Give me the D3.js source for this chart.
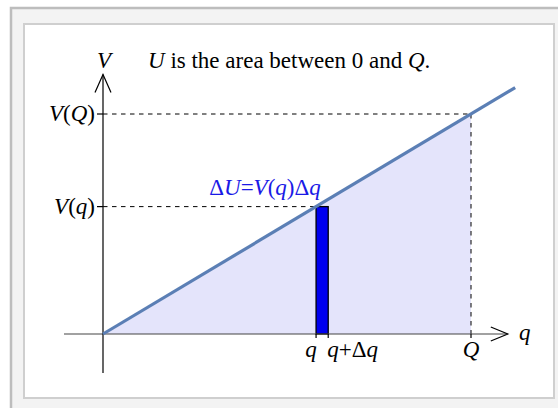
<!DOCTYPE html>
<html>
<head>
<meta charset="utf-8">
<script src="https://cdn.jsdelivr.net/npm/d3@7"></script>
<style>
  html, body { margin: 0; padding: 0; background: #fff; }
  svg { display: block; }
  text { font-family: "Liberation Serif", "Times New Roman", serif; }
</style>
</head>
<body>
<svg id="chart" width="558" height="408"></svg>
<script>
// Quantities in units of Q: charge q, increment dq, and potential V(q) = q
const charges = { q: 0.579, dq: 0.033, Q: 1.0 };
const lineEnd = 1.12;           // how far the V(q) line runs past Q
const xAxisRange = [-0.106, 1.10];
const yAxisRange = [-0.177, 1.18];
const xTickLabels = ["q", "q+Δq", "Q"];
const yTickLabels = ["V(q)", "V(Q)"];
const V = q => q;

const svg = d3.select("#chart");

// frame
svg.append("rect").attr("x", 11).attr("y", 8).attr("width", 560).attr("height", 420)
  .attr("fill", "#f3f3f3").attr("stroke", "#bdbdbd").attr("stroke-width", 2.5);
svg.append("rect").attr("x", 24).attr("y", 24).attr("width", 530).attr("height", 374)
  .attr("fill", "#fff").attr("stroke", "#cfcfcf").attr("stroke-width", 2);

const x = d3.scaleLinear().domain([0, 1]).range([103, 471]);
const y = d3.scaleLinear().domain([0, 1]).range([334, 114]);

// shaded area under V between 0 and Q
svg.append("path")
  .datum([[0, 0], [charges.Q, V(charges.Q)], [charges.Q, 0]])
  .attr("d", d3.line().x(d => x(d[0])).y(d => y(d[1])))
  .attr("fill", "#e4e4fb");

// dashed guides
const dash = "4.5,4.5";
svg.append("line").attr("x1", x(0)).attr("x2", x(charges.Q))
  .attr("y1", y(V(charges.Q))).attr("y2", y(V(charges.Q)))
  .attr("stroke", "#000").attr("stroke-width", 1).attr("stroke-dasharray", dash);
svg.append("line").attr("x1", x(charges.Q)).attr("x2", x(charges.Q))
  .attr("y1", y(V(charges.Q))).attr("y2", y(0))
  .attr("stroke", "#000").attr("stroke-width", 1).attr("stroke-dasharray", dash);
svg.append("line").attr("x1", x(0)).attr("x2", x(charges.q))
  .attr("y1", y(V(charges.q))).attr("y2", y(V(charges.q)))
  .attr("stroke", "#000").attr("stroke-width", 1).attr("stroke-dasharray", dash);

// the thin strip dU = V(q) dq
svg.append("rect")
  .attr("x", x(charges.q)).attr("y", y(V(charges.q)))
  .attr("width", x(charges.q + charges.dq) - x(charges.q))
  .attr("height", y(0) - y(V(charges.q)))
  .attr("fill", "#0000ee").attr("stroke", "#000").attr("stroke-width", 1.3);

// axes
const ax = svg.append("g").attr("stroke", "#000").attr("stroke-width", 1.2).attr("fill", "none");
ax.append("line").attr("x1", x(xAxisRange[0])).attr("x2", x(xAxisRange[1]))
  .attr("y1", y(0)).attr("y2", y(0)).attr("stroke", "#444");
ax.append("line").attr("x1", x(0)).attr("x2", x(0))
  .attr("y1", y(yAxisRange[0])).attr("y2", y(yAxisRange[1]));
const xt = x(xAxisRange[1]), yt = y(yAxisRange[1]);
ax.append("path").attr("d", `M${xt - 17},${y(0) - 7}L${xt},${y(0)}L${xt - 17},${y(0) + 7}`);
ax.append("path").attr("d", `M${x(0) - 8},${yt + 18}L${x(0)},${yt}L${x(0) + 8},${yt + 18}`);

// tick marks
const xTicks = [charges.q, charges.q + charges.dq, charges.Q];
xTicks.forEach(t => ax.append("line").attr("x1", x(t)).attr("x2", x(t))
  .attr("y1", y(0)).attr("y2", y(0) + 4));
const yTicks = [V(charges.q), V(charges.Q)];
yTicks.forEach(t => ax.append("line").attr("x1", x(0) - 6).attr("x2", x(0))
  .attr("y1", y(t)).attr("y2", y(t)));

// V(q) line
svg.append("line").attr("x1", x(0)).attr("y1", y(0))
  .attr("x2", x(lineEnd)).attr("y2", y(V(lineEnd)))
  .attr("stroke", "#5b7fb5").attr("stroke-width", 3.2).attr("stroke-linecap", "butt");

// math-style text helper: parts are [text, italic?]
function mtext(sel, parts) {
  parts.forEach(([s, it]) => sel.append("tspan").text(s)
    .attr("font-style", it ? "italic" : "normal"));
  return sel;
}
function parse(lbl) {
  // single-letter variables italic, everything else upright
  return lbl.split(/([A-Za-z])/).filter(s => s !== "").map(s => [s, /^[A-Za-z]$/.test(s)]);
}

const fs = 23;
// axis names
mtext(svg.append("text").attr("x", x(0) + 1).attr("y", 68).attr("text-anchor", "middle")
  .attr("font-size", fs), [["V", true]]);
mtext(svg.append("text").attr("x", 519).attr("y", 340)
  .attr("font-size", fs), [["q", true]]);

// tick labels
xTicks.forEach((t, i) => {
  const tx = svg.append("text").attr("y", 357).attr("font-size", fs)
    .attr("x", i === 0 ? x(t) - 5 : i === 1 ? x(t) - 1 : x(t))
    .attr("text-anchor", i === 1 ? "start" : "middle");
  mtext(tx, parse(xTickLabels[i]));
});
yTicks.forEach((t, i) => {
  const tx = svg.append("text").attr("x", 95).attr("y", y(t) + 7).attr("font-size", fs)
    .attr("text-anchor", "end");
  mtext(tx, parse(yTickLabels[i]));
});

// title
mtext(svg.append("text").attr("x", 148).attr("y", 68).attr("font-size", fs),
  [["U", true], [" is the area between 0 and ", false], ["Q", true], [".", false]]);

// strip label
mtext(svg.append("text").attr("x", 265).attr("y", 195).attr("text-anchor", "middle")
  .attr("font-size", fs).attr("fill", "#1a1ae6"),
  [["Δ", false], ["U", true], ["=", false], ["V", true], ["(", false], ["q", true], [")Δ", false], ["q", true]]);
</script>
</body>
</html>
